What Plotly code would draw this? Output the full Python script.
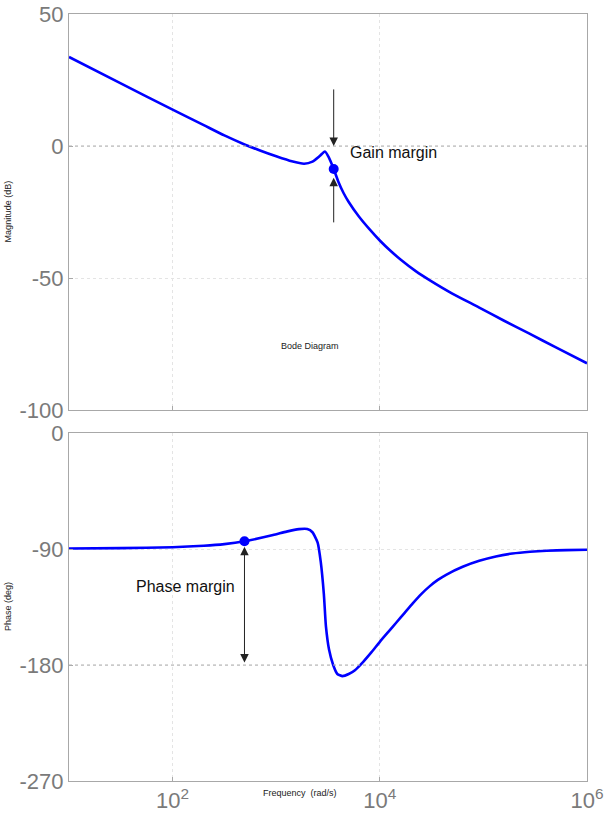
import plotly.graph_objects as go
from plotly.subplots import make_subplots
import math

# ---- data ----
mag_freq = [10, 31.6, 100, 200, 316, 501, 708, 1000, 1413, 1862, 2239, 2630, 2951,
            3236, 3589, 3981, 4467, 5012, 6310, 7943, 10000, 12589, 15849, 22387, 30200,
            50119, 91201, 158489, 275423, 501187, 1000000]
mag_db = [33.7, 23.7, 13.8, 7.9, 4.0, 0.5, -1.8, -3.9, -5.8, -6.7, -5.9, -3.8, -2.1,
          -4.5, -8.7, -13.5, -17.8, -21.2, -26.8, -31.5, -35.8, -39.6, -43.0, -47.5, -50.8,
          -55.9, -61.2, -66.2, -71.0, -76.3, -82.3]

phase_freq = [10, 31.6, 100, 200, 316, 494, 933, 1259, 1660, 1995, 2239, 2512, 2692, 2884,
              3020, 3236, 3548, 3890, 4365, 5012, 5754, 6918, 8318, 10000, 12023, 14454,
              17378, 20893, 25119, 30200, 36308, 43652, 63096, 91201, 131826, 190546,
              281838, 407380, 630957, 1000000]
phase_deg = [-89.6, -89.3, -88.6, -87.5, -86.2, -84.0, -79.2, -76.5, -74.6, -74.5, -77.0,
             -85.0, -100.0, -125.0, -150.0, -168.0, -180.0, -187.0, -188.6, -187.0, -184.0,
             -177.5, -170.0, -162.0, -154.5, -147.0, -139.5, -132.0, -125.0, -119.0, -114.0,
             -110.0, -103.8, -99.2, -95.8, -93.5, -92.1, -91.3, -90.9, -90.6]

# margin points
gm_freq, gm_db = 3589, -8.7
pm_freq, pm_deg = 494, -84.0

x_tickvals = [100, 10000, 1000000]
x_ticktext = ["10<sup>2</sup>", "10<sup>4</sup>", "10<sup>6</sup>"]
mag_ticks = [-100, -50, 0, 50]
mag_ticktext = ["-100", "-50", "0", "50"]
phase_ticks = [-270, -180, -90, 0]
phase_ticktext = ["-270", "-180", "-90", "0"]

BLUE = "#0000ff"
AX = "#a8a8a8"
TXT = "#7a7a7a"
FONT = "Liberation Sans, Arial, sans-serif"

fig = make_subplots(rows=2, cols=1, shared_xaxes=False, vertical_spacing=0.03)

fig.add_trace(go.Scatter(x=mag_freq, y=mag_db, mode="lines",
                         line=dict(color=BLUE, width=2.6, shape="spline", smoothing=0.6),
                         showlegend=False), 1, 1)
fig.add_trace(go.Scatter(x=[gm_freq], y=[gm_db], mode="markers",
                         marker=dict(color=BLUE, size=10), showlegend=False), 1, 1)
fig.add_trace(go.Scatter(x=phase_freq, y=phase_deg, mode="lines",
                         line=dict(color=BLUE, width=2.6, shape="spline", smoothing=0.5),
                         showlegend=False), 2, 1)
fig.add_trace(go.Scatter(x=[pm_freq], y=[pm_deg], mode="markers",
                         marker=dict(color=BLUE, size=10), showlegend=False), 2, 1)

axis_common = dict(showline=True, linecolor=AX, linewidth=1, mirror=True,
                   showgrid=True, gridcolor="#e4e4e4", griddash="dot", gridwidth=1,
                   zeroline=False, ticks="inside", ticklen=4, tickcolor=AX,
                   automargin=False,
                   tickfont=dict(family=FONT, size=22, color=TXT))

fig.update_xaxes(type="log", range=[1, 6], tickvals=x_tickvals, ticktext=x_ticktext,
                 **axis_common)
fig.update_xaxes(showticklabels=False, row=1, col=1)
fig.update_xaxes(domain=[0, 1])
fig.update_yaxes(**axis_common)
fig.update_yaxes(range=[-100, 50], tickvals=mag_ticks, ticktext=mag_ticktext,
                 domain=[0.4837, 1.0], row=1, col=1)
fig.update_yaxes(range=[-270, 0], tickvals=phase_ticks, ticktext=phase_ticktext,
                 domain=[0.0, 0.4537], row=2, col=1)

# darker reference lines
fig.add_shape(type="line", xref="x domain", yref="y", x0=0, x1=1, y0=0, y1=0,
              line=dict(color="#b0b0b0", width=1, dash="dot"))
fig.add_shape(type="line", xref="x2 domain", yref="y2", x0=0, x1=1, y0=-180, y1=-180,
              line=dict(color="#b0b0b0", width=1, dash="dot"))

lg = math.log10(gm_freq)
lp = math.log10(pm_freq)
ARROW = "#222222"
ann = [
    dict(x=lg, y=0, ax=lg, ay=22, xref="x", yref="y", axref="x", ayref="y",
         showarrow=True, arrowhead=2, arrowsize=1.7, arrowwidth=1, arrowcolor=ARROW, text=""),
    dict(x=lg, y=-12, ax=lg, ay=-29.5, xref="x", yref="y", axref="x", ayref="y",
         showarrow=True, arrowhead=2, arrowsize=1.7, arrowwidth=1, arrowcolor=ARROW, text=""),
    dict(x=lp, y=-178, ax=lp, ay=-87, xref="x2", yref="y2", axref="x2", ayref="y2",
         showarrow=True, arrowhead=2, startarrowhead=2, arrowside="end+start",
         arrowsize=1.7, startarrowsize=1.7, arrowwidth=1, arrowcolor=ARROW, text=""),
    dict(x=3.69, y=-2.3, xref="x", yref="y", text="Gain margin", showarrow=False,
         xanchor="left", yanchor="middle", font=dict(family=FONT, size=16, color="#111")),
    dict(x=2.617, y=-118.7, xref="x2", yref="y2", text="Phase margin", showarrow=False,
         xanchor="right", yanchor="middle", font=dict(family=FONT, size=16, color="#111")),
    dict(x=0.465, y=0.567, xref="paper", yref="paper", text="Bode Diagram", showarrow=False,
         xanchor="center", yanchor="middle", font=dict(family=FONT, size=9, color="#222")),
    dict(x=0.446, y=-0.0156, xref="paper", yref="paper", text="Frequency  (rad/s)",
         showarrow=False, xanchor="center", yanchor="middle",
         font=dict(family=FONT, size=9, color="#222")),
    dict(x=-0.118, y=0.7425, xref="paper", yref="paper", text="Magnitude (dB)",
         showarrow=False, textangle=-90, xanchor="center", yanchor="middle",
         font=dict(family=FONT, size=9, color="#222")),
    dict(x=-0.118, y=0.228, xref="paper", yref="paper", text="Phase (deg)",
         showarrow=False, textangle=-90, xanchor="center", yanchor="middle",
         font=dict(family=FONT, size=9, color="#222")),
]
fig.update_layout(annotations=ann, width=604, height=817,
                  margin=dict(l=69, r=17, t=14, b=36),
                  plot_bgcolor="white", paper_bgcolor="white",
                  font=dict(family=FONT))

fig.write_html("out.html")
